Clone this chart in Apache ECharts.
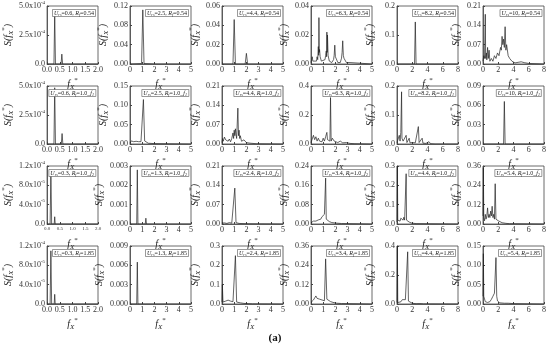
<!DOCTYPE html>
<html><head><meta charset="utf-8">
<script src="https://cdn.jsdelivr.net/npm/echarts@6/dist/echarts.min.js"></script>
<style>html,body{margin:0;padding:0;background:#fff}#c{width:550px;height:350px}</style>
</head><body><div id="c"></div>
<script>
// ---- data (x = f_X*, y = S) ----
const p11=[[0,0],[0.27,0],[0.3,4.3e-4],[0.33,0],[0.55,0],[0.58,0.85e-4],[0.61,0],[2,0]];
const p12=[[0,0],[0.95,0.001],[1.05,0.112],[1.15,0.001],[2.05,0],[2.1,0.004],[2.15,0],[5,0]];
const p13=[[0,0],[0.9,0],[1.0,0.046],[1.1,0],[1.9,0],[2.0,0.011],[2.1,0],[5,0]];
const p14=[[0,0.001],[0.05,0.003],[0.1,0.005],[0.15,0.002],[0.3,0.001],[0.45,0.002],[0.5,0.005],[0.55,0.003],[0.6,0.012],[0.63,0.006],[0.65,0.032],[0.68,0.008],[0.7,0.01],[0.75,0.005],[0.85,0.002],[1.0,0.001],[1.15,0.003],[1.2,0.006],[1.25,0.009],[1.28,0.005],[1.3,0.022],[1.33,0.008],[1.35,0.02],[1.4,0.006],[1.5,0.002],[1.7,0.001],[1.85,0.003],[1.9,0.006],[1.95,0.013],[2.0,0.005],[2.05,0.004],[2.2,0.001],[2.4,0.001],[2.5,0.004],[2.55,0.008],[2.6,0.016],[2.65,0.006],[2.7,0.004],[2.9,0.001],[3.2,0.001],[3.25,0.002],[3.3,0.001],[5,0]];
const p15=[[0,0],[2.3,0],[2.4,0.145],[2.5,0],[4.95,0],[5.0,0.003],[5.05,0],[8,0]];
const p16=[[0,0.01],[0.1,0.03],[0.2,0.02],[0.3,0.18],[0.35,0.02],[0.45,0.04],[0.5,0.015],[0.6,0.06],[0.7,0.02],[0.8,0.05],[0.9,0.01],[1.1,0.02],[1.3,0.01],[1.5,0.03],[1.7,0.02],[1.9,0.04],[2.1,0.03],[2.3,0.06],[2.4,0.05],[2.5,0.1],[2.6,0.07],[2.7,0.09],[2.8,0.06],[2.9,0.135],[3.0,0.05],[3.1,0.07],[3.3,0.03],[3.5,0.02],[3.8,0.01],[4.2,0.004],[4.6,0.006],[5.0,0.008],[5.4,0.005],[6,0.002],[8,0]];

const p21=[[0,0],[0.27,0],[0.3,4.85e-4],[0.33,0],[0.56,0],[0.59,0.9e-4],[0.62,0],[0.88,0],[0.9,0.15e-4],[0.92,0],[2,0]];
const p22=[[0,0.002],[0.1,0.008],[0.2,0.012],[0.3,0.006],[0.4,0.01],[0.5,0.007],[0.6,0.011],[0.7,0.006],[0.8,0.009],[0.9,0.006],[1.0,0.01],[1.1,0.115],[1.2,0.008],[1.3,0.004],[1.5,0.002],[2,0.001],[5,0]];
const p23=[[0,0.005],[0.05,0.02],[0.1,0.01],[0.2,0.025],[0.3,0.015],[0.4,0.02],[0.5,0.01],[0.6,0.018],[0.7,0.008],[0.8,0.02],[0.9,0.04],[0.95,0.02],[1.0,0.05],[1.05,0.03],[1.1,0.055],[1.15,0.035],[1.2,0.02],[1.3,0.13],[1.35,0.03],[1.4,0.05],[1.45,0.02],[1.5,0.03],[1.6,0.01],[1.8,0.015],[2.0,0.005],[2.3,0.003],[2.8,0.001],[5,0]];
const p24=[[0,0.01],[0.1,0.02],[0.2,0.06],[0.3,0.03],[0.4,0.05],[0.5,0.02],[0.6,0.04],[0.7,0.02],[0.8,0.03],[0.9,0.015],[1.0,0.04],[1.1,0.02],[1.2,0.05],[1.3,0.08],[1.35,0.03],[1.45,0.04],[1.55,0.02],[1.6,0.32],[1.65,0.02],[1.75,0.04],[1.9,0.02],[2.0,0.03],[2.2,0.01],[2.4,0.02],[2.6,0.008],[2.9,0.01],[3.2,0.004],[3.6,0.002],[5,0]];
const p25=[[0,0.005],[0.2,0.01],[0.3,0.03],[0.4,0.01],[0.5,0.04],[0.6,0.18],[0.65,0.02],[0.8,0.01],[1.0,0.005],[1.2,0.03],[1.3,0.005],[1.6,0.02],[1.7,0.004],[2.0,0.005],[2.2,0.01],[2.4,0.004],[2.8,0.06],[2.9,0.005],[3.3,0.02],[3.4,0.003],[3.8,0.002],[4.2,0.008],[4.4,0.001],[5,0],[8,0]];
const p26=[[0,0],[2.7,0],[2.8,0.066],[2.9,0],[5.55,0],[5.6,0.002],[5.65,0],[8,0]];

const p31=[[0,0],[0.12,0],[0.15,1.1e-4],[0.18,0],[0.28,0],[0.3,0.15e-4],[0.32,0],[2,0]];
const p32=[[0,0],[0.55,0],[0.6,0.0028],[0.65,0],[1.25,0],[1.3,0.0003],[1.35,0],[5,0]];
const p33=[[0,0.003],[0.2,0.004],[0.4,0.002],[0.6,0.005],[0.8,0.003],[0.95,0.006],[1.05,0.13],[1.15,0.005],[1.4,0.002],[2,0.001],[5,0]];
const p34=[[0,0.005],[0.1,0.01],[0.2,0.012],[0.3,0.015],[0.4,0.012],[0.5,0.02],[0.6,0.017],[0.7,0.022],[0.8,0.02],[0.9,0.03],[1.0,0.025],[1.1,0.04],[1.2,0.19],[1.25,0.02],[1.35,0.015],[1.5,0.01],[1.7,0.006],[2,0.004],[2.5,0.002],[5,0]];
const p35=[[0,0.01],[0.05,0.3],[0.1,0.02],[0.2,0.01],[0.3,0.02],[0.4,0.015],[0.5,0.03],[0.6,0.02],[0.7,0.04],[0.8,0.02],[0.9,0.035],[1.0,0.02],[1.1,0.03],[1.2,0.26],[1.25,0.02],[1.4,0.015],[1.6,0.01],[1.9,0.005],[2.5,0.002],[8,0]];
const p36=[[0,0.05],[0.05,0.35],[0.1,0.04],[0.2,0.02],[0.3,0.06],[0.4,0.03],[0.5,0.05],[0.6,0.1],[0.7,0.04],[0.8,0.06],[0.9,0.04],[1.0,0.08],[1.1,0.05],[1.2,0.11],[1.3,0.04],[1.4,0.06],[1.5,0.03],[1.6,0.25],[1.7,0.03],[1.8,0.04],[2.0,0.02],[2.2,0.015],[2.5,0.008],[3,0.004],[3.5,0.002],[8,0]];

const p41=[[0,0],[0.12,0],[0.15,1.1e-4],[0.18,0],[0.28,0],[0.3,0.2e-4],[0.32,0],[2,0]];
const p42=[[0,0],[0.55,0],[0.6,0.0065],[0.65,0],[1.25,0],[1.3,0.0002],[1.35,0],[5,0]];
const p43=[[0,0.01],[0.03,0.1],[0.08,0.01],[0.2,0.005],[0.3,0.015],[0.4,0.01],[0.5,0.02],[0.6,0.01],[0.7,0.015],[0.8,0.01],[0.9,0.012],[1.0,0.015],[1.1,0.25],[1.2,0.01],[1.3,0.015],[1.5,0.006],[1.8,0.003],[2.5,0.001],[5,0]];
const p44=[[0,0.01],[0.1,0.02],[0.2,0.025],[0.3,0.03],[0.4,0.05],[0.5,0.035],[0.6,0.04],[0.7,0.03],[0.8,0.035],[0.9,0.025],[1.0,0.03],[1.1,0.02],[1.2,0.28],[1.3,0.03],[1.4,0.02],[1.6,0.015],[1.8,0.01],[2.1,0.005],[2.5,0.003],[5,0]];
const p45=[[0,0.01],[0.05,0.4],[0.1,0.01],[0.3,0.02],[0.5,0.015],[0.7,0.03],[0.9,0.02],[1.1,0.03],[1.2,0.02],[1.3,0.04],[1.4,0.36],[1.5,0.02],[1.7,0.01],[2.0,0.005],[2.5,0.002],[3,0.003],[3.5,0.001],[8,0]];
const p46=[[0,0.02],[0.05,0.13],[0.1,0.02],[0.3,0.006],[0.6,0.004],[0.9,0.006],[1.1,0.012],[1.3,0.02],[1.5,0.028],[1.6,0.03],[1.7,0.12],[1.8,0.02],[1.9,0.008],[2.2,0.003],[2.8,0.002],[3.3,0.002],[3.4,0.004],[3.5,0.002],[4,0.001],[8,0]];

const panelData=[[p11,p12,p13,p14,p15,p16],[p21,p22,p23,p24,p25,p26],[p31,p32,p33,p34,p35,p36],[p41,p42,p43,p44,p45,p46]];

const urs=[["0.6","2.5","4.4","6.3","8.2","10"],["0.6","2.5","4.4","6.3","8.2","10"],["0.3","1.3","2.4","3.4","4.4","5.4"],["0.3","1.3","2.4","3.4","4.4","5.4"]];
const rfText=["0.54","1.0","1.0","1.85"];
const rfSuffix=["","1","2",""];

const xMax=[2,5,5,5,8,8];
const xStep=[0.5,1,1,1,2,2];
const xTickLabels=[["0.0","0.5","1.0","1.5","2.0"],["0","1","2","3","4","5"],["0","1","2","3","4","5"],["0","1","2","3","4","5"],["0","2","4","6","8"],["0","2","4","6","8"]];

const yMax=[[5e-4,0.12,0.06,0.04,0.2,0.21],[5e-4,0.15,0.21,0.4,0.2,0.09],[1.2e-4,0.003,0.21,0.24,0.3,0.36],[1.2e-4,0.009,0.3,0.36,0.4,0.15]];
const yStep=[[2.5e-4,0.04,0.02,0.02,0.1,0.07],[2.5e-4,0.05,0.07,0.2,0.1,0.03],[4e-5,0.001,0.07,0.08,0.1,0.12],[4e-5,0.003,0.1,0.12,0.2,0.05]];
const yTickLabels=[
 [["0.0","2.5x10{s|-4}","5.0x10{s|-4}"],["0.00","0.04","0.08","0.12"],["0.00","0.02","0.04","0.06"],["0.00","0.02","0.04"],["0.0","0.1","0.2"],["0.00","0.07","0.14","0.21"]],
 [["0.0","2.5x10{s|-4}","5.0x10{s|-4}"],["0.00","0.05","0.10","0.15"],["0.00","0.07","0.14","0.21"],["0.0","0.2","0.4"],["0.0","0.1","0.2"],["0.00","0.03","0.06","0.09"]],
 [["0.0","4.0x10{s|-5}","8.0x10{s|-5}","1.2x10{s|-4}"],["0.000","0.001","0.002","0.003"],["0.00","0.07","0.14","0.21"],["0.00","0.08","0.16","0.24"],["0.0","0.1","0.2","0.3"],["0.00","0.12","0.24","0.36"]],
 [["0.0","4.0x10{s|-5}","8.0x10{s|-5}","1.2x10{s|-4}"],["0.000","0.003","0.006","0.009"],["0.0","0.1","0.2","0.3"],["0.00","0.12","0.24","0.36"],["0.0","0.2","0.4"],["0.00","0.05","0.10","0.15"]]
];

// ---- layout ----
const colLeft=[37,130,222,311,397,483];
const colW=61;
const rowTop=[6,86,166,246];
const rowH=58;
const FONT='"Liberation Serif", "DejaVu Serif", serif';

const grids=[],xAxes=[],yAxes=[],series=[],titles=[];
const nameRich={i:{fontStyle:'italic',fontSize:10,fontFamily:FONT,color:'#222'},sb:{fontStyle:'italic',fontSize:7,fontFamily:FONT,color:'#222',verticalAlign:'bottom',lineHeight:14},sp:{fontSize:7,fontFamily:FONT,color:'#222',verticalAlign:'top',lineHeight:14}};
for(let r=0;r<4;r++){
 for(let c=0;c<6;c++){
  const i=grids.length;
  grids.push({left:colLeft[c],top:rowTop[r],width:colW,height:rowH,show:true,borderColor:'#444',borderWidth:0.8,backgroundColor:'#fff'});
  const xl=xTickLabels[c];
  xAxes.push({type:'value',gridIndex:i,min:0,max:xMax[c],interval:xStep[c],
   axisLine:{onZero:false,lineStyle:{color:'#444',width:0.8}},
   axisTick:{inside:true,length:2,lineStyle:{color:'#444'}},splitLine:{show:false},
   axisLabel:{fontFamily:FONT,fontSize:(r===2&&c===0)?5:8,color:'#333',margin:2,formatter:(v,k)=>xl[k]!==undefined?xl[k]:''},
   name:'{i|f}{sb|X}{sp|*}',nameLocation:'middle',nameGap:13,
   nameTextStyle:{fontFamily:FONT,color:'#222',rich:nameRich}
  });
  const yl=yTickLabels[r][c];
  yAxes.push({type:'value',gridIndex:i,min:0,max:yMax[r][c],interval:yStep[r][c],
   axisLine:{show:true,lineStyle:{color:'#444',width:0.8}},
   axisTick:{show:true,inside:true,length:2,lineStyle:{color:'#444'}},splitLine:{show:false},
   axisLabel:{fontFamily:FONT,fontSize:8,color:'#333',margin:2,formatter:(v,k)=>yl[k]!==undefined?yl[k]:'',
     rich:{s:{fontSize:5,fontFamily:FONT,color:'#333',verticalAlign:'top',lineHeight:12}}},
   name:'{i|S(f}{sb|X}{sp|*}{i|)}',nameLocation:'middle',nameRotate:90,nameGap:(c===0)?28:20,
   nameTextStyle:{fontFamily:FONT,color:'#222',rich:nameRich}
  });
  series.push({type:'line',xAxisIndex:i,yAxisIndex:i,data:panelData[r][c],showSymbol:false,symbol:'none',
   lineStyle:{color:'#222',width:0.7},animation:false,silent:true});
  let txt='{i|U}{sb|rs}{n|='+urs[r][c]+', }{i|R}{sb|f}{n|='+rfText[r]+'}';
  if(rfSuffix[r]) txt+='{n|_}{i|f}{sb|'+rfSuffix[r]+'}';
  titles.push({text:txt,right:550-(colLeft[c]+colW)+2,top:rowTop[r]+2,padding:[1,2,0,2],borderColor:'#555',borderWidth:0.6,backgroundColor:'#fff',
   textStyle:{fontSize:6,fontFamily:FONT,fontWeight:'normal',color:'#222',rich:{
    i:{fontStyle:'italic',fontSize:6,fontFamily:FONT,color:'#222'},
    n:{fontSize:6,fontFamily:FONT,color:'#222'},
    sb:{fontStyle:'italic',fontSize:4,fontFamily:FONT,color:'#222',verticalAlign:'bottom',lineHeight:8}}}});
 }
}
titles.push({text:'(a)',left:'center',top:333,padding:0,textStyle:{fontSize:11,fontWeight:'bold',fontFamily:FONT,color:'#111'}});

const chart=echarts.init(document.getElementById('c'),null,{renderer:'canvas'});
chart.setOption({animation:false,backgroundColor:'#fff',title:titles,grid:grids,xAxis:xAxes,yAxis:yAxes,series:series});
</script></body></html>
